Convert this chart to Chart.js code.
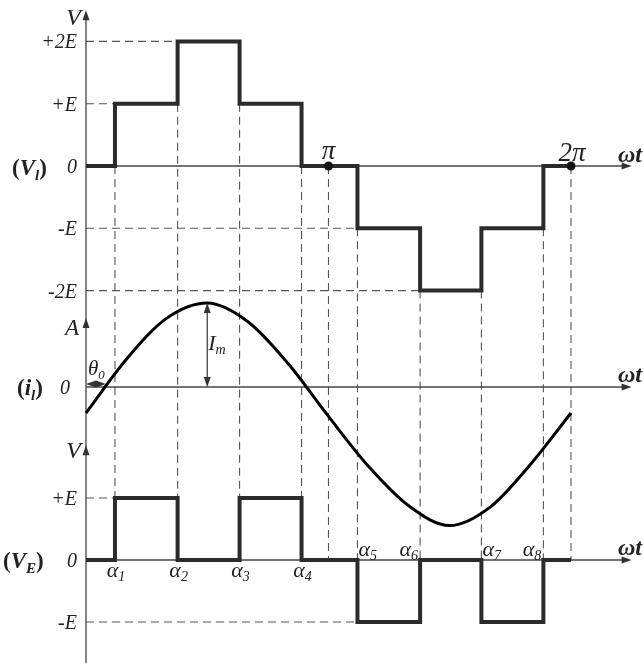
<!DOCTYPE html>
<html>
<head>
<meta charset="utf-8">
<script src="https://cdn.jsdelivr.net/npm/chart.js@4.4.0/dist/chart.umd.min.js"></script>
<style>
  html, body { margin: 0; padding: 0; background: #fff; }
  #wave { display: block; }
</style>
</head>
<body>
<canvas id="wave" width="644" height="663"></canvas>
<script>
// Switching angles alpha1..alpha8 (degrees of wt)
const alphaDeg = [21.5, 68, 114, 160, 201.5, 248, 293.5, 339.5];
const alphaSubs = ["1", "2", "3", "4", "5", "6", "7", "8"];

// Output levels in multiples of E, first entry = level from wt = 0
const vlLevels = [0, 1, 2, 1, 0, -1, -2, -1, 0];
const veLevels = [0, 1, 0, 1, 0, -1, 0, -1, 0];

// Tick labels of the two voltage axes
const vlTickVals = [2, 1, 0, -1, -2];
const vlTickText = ["+2E", "+E", "0", "-E", "-2E"];
const veTickVals = [1, 0, -1];
const veTickText = ["+E", "0", "-E"];

// Load current (units of Im), every 30 degrees
const currentDeg = [0, 30, 60, 90, 120, 150, 180, 210, 240, 270, 300, 330, 360];
const currentVal = [-0.31, 0.33, 0.82, 1.0, 0.78, 0.28, -0.35, -0.95, -1.42, -1.65, -1.43, -0.92, -0.31];
const theta0Deg = 14.8;

const PERIOD = 360;
const SERIF = '"Liberation Serif", "DejaVu Serif", serif';
const INK = "#222";

function stairPoints(levels) {
  const pts = [{ x: 0, y: levels[0] }];
  alphaDeg.forEach((a, i) => pts.push({ x: a, y: levels[i + 1] }));
  pts.push({ x: PERIOD, y: levels[levels.length - 1] });
  return pts;
}

// draw a list of text runs [text, font, dy] starting at x (align: left/center/right)
function runs(ctx, parts, x, y, align) {
  let total = 0;
  parts.forEach(p => { ctx.font = p[1]; total += ctx.measureText(p[0]).width; });
  let cx = align === "right" ? x - total : align === "center" ? x - total / 2 : x;
  ctx.textAlign = "left";
  ctx.textBaseline = "alphabetic";
  parts.forEach(p => {
    ctx.font = p[1];
    ctx.fillText(p[0], cx, y + (p[2] || 0));
    cx += ctx.measureText(p[0]).width;
  });
}

function arrowHead(ctx, x, y, dir) {
  const len = 10, half = 3.5;
  ctx.beginPath();
  if (dir === "up") { ctx.moveTo(x, y); ctx.lineTo(x - half, y + len); ctx.lineTo(x + half, y + len); }
  if (dir === "down") { ctx.moveTo(x, y); ctx.lineTo(x - half, y - len); ctx.lineTo(x + half, y - len); }
  if (dir === "right") { ctx.moveTo(x, y); ctx.lineTo(x - len, y - half); ctx.lineTo(x - len, y + half); }
  if (dir === "left") { ctx.moveTo(x, y); ctx.lineTo(x + len, y - half); ctx.lineTo(x + len, y + half); }
  ctx.closePath();
  ctx.fill();
}

function line(ctx, x1, y1, x2, y2) {
  ctx.beginPath();
  ctx.moveTo(x1, y1);
  ctx.lineTo(x2, y2);
  ctx.stroke();
}

const sketch = {
  id: "sketch",
  beforeDatasetsDraw(chart) {
    const { ctx, scales: { x, yV, yI, yE } } = chart;
    const ax = x.getPixelForValue(0);
    const xEnd = x.getPixelForValue(405);
    ctx.save();

    // dashed guides
    ctx.strokeStyle = "#555";
    ctx.lineWidth = 1.1;
    ctx.setLineDash([8, 5]);
    alphaDeg.forEach((a, i) => {
      const px = x.getPixelForValue(a);
      const top = yV.getPixelForValue(Math.min(vlLevels[i], vlLevels[i + 1]));
      const bot = yE.getPixelForValue(Math.max(veLevels[i], veLevels[i + 1]));
      line(ctx, px, top, px, bot);
    });
    [180, 360].forEach(d => {
      const px = x.getPixelForValue(d);
      line(ctx, px, yV.getPixelForValue(0), px, yE.getPixelForValue(0));
    });
    vlTickVals.forEach(v => {
      if (v === 0) return;
      const idx = vlLevels.indexOf(v);
      const py = yV.getPixelForValue(v);
      line(ctx, ax, py, x.getPixelForValue(alphaDeg[idx - 1]), py);
    });
    veTickVals.forEach(v => {
      if (v === 0) return;
      const idx = veLevels.indexOf(v);
      const py = yE.getPixelForValue(v);
      line(ctx, ax, py, x.getPixelForValue(alphaDeg[idx - 1]), py);
    });

    // axes
    ctx.setLineDash([]);
    ctx.strokeStyle = "#444";
    ctx.fillStyle = "#333";
    ctx.lineWidth = 1.3;
    line(ctx, ax, yV.getPixelForValue(2.45), ax, chart.height);
    [yV, yI, yE].forEach(s => {
      const py = s.getPixelForValue(0);
      line(ctx, ax, py, xEnd - 4, py);
      arrowHead(ctx, xEnd, py, "right");
    });
    arrowHead(ctx, ax, yV.getPixelForValue(2.5), "up");
    arrowHead(ctx, ax, yI.getPixelForValue(0.82), "up");
    arrowHead(ctx, ax, yE.getPixelForValue(1.85), "up");
    ctx.restore();
  },
  afterDatasetsDraw(chart) {
    const { ctx, scales: { x, yV, yI, yE } } = chart;
    const ax = x.getPixelForValue(0);
    ctx.save();
    ctx.fillStyle = INK;
    const tick = "italic 20px " + SERIF;

    // axis tick labels
    vlTickVals.forEach((v, i) => runs(ctx, [[vlTickText[i], tick]], ax - 9, yV.getPixelForValue(v) + 7, "right"));
    veTickVals.forEach((v, i) => runs(ctx, [[veTickText[i], tick]], ax - 9, yE.getPixelForValue(v) + 7, "right"));
    runs(ctx, [["0", tick]], ax - 16, yI.getPixelForValue(0) + 7, "right");

    // axis units
    runs(ctx, [["V", "italic 24px " + SERIF]], ax - 5, yV.getPixelForValue(2.265), "right");
    runs(ctx, [["A", "italic 23px " + SERIF]], ax - 7, yI.getPixelForValue(0.62), "right");
    runs(ctx, [["V", "italic 24px " + SERIF]], ax - 5, yE.getPixelForValue(1.65), "right");

    // panel names
    const b = "bold 23px " + SERIF, bi = "bold italic 23px " + SERIF, bs = "bold italic 15px " + SERIF;
    runs(ctx, [["(", b], ["V", bi], ["l", bs, 5], [")", b]], 12, yV.getPixelForValue(0) + 9, "left");
    runs(ctx, [["(", b], ["i", bi], ["l", bs, 5], [")", b]], 17, yI.getPixelForValue(0) + 8, "left");
    runs(ctx, [["(", b], ["V", bi], ["E", bs, 5], [")", b]], 3, yE.getPixelForValue(0) + 8, "left");

    // wt labels
    const wt = "bold italic 24px " + SERIF;
    runs(ctx, [["\u03c9t", wt]], 618, yV.getPixelForValue(0) - 4, "left");
    runs(ctx, [["\u03c9t", wt]], 618, yI.getPixelForValue(0) - 5, "left");
    runs(ctx, [["\u03c9t", wt]], 618, yE.getPixelForValue(0) - 5, "left");

    // pi markers
    ctx.fillStyle = "#111";
    [180, 360].forEach(d => {
      ctx.beginPath();
      ctx.arc(x.getPixelForValue(d), yV.getPixelForValue(0), 4.5, 0, Math.PI * 2);
      ctx.fill();
    });
    ctx.fillStyle = INK;
    const pf = "italic 27px " + SERIF;
    runs(ctx, [["\u03c0", pf]], x.getPixelForValue(180), yV.getPixelForValue(0) - 7, "center");
    runs(ctx, [["2\u03c0", pf]], x.getPixelForValue(360) + 1, yV.getPixelForValue(0) - 5, "center");

    // alpha labels
    const af = "italic 22px " + SERIF, as = "italic 14px " + SERIF;
    alphaDeg.forEach((a, i) => {
      const px = x.getPixelForValue(a);
      const parts = [["\u03b1", af], [alphaSubs[i], as, 4]];
      if (i < 4) runs(ctx, parts, px + 1, yE.getPixelForValue(0) + 17, "center");
      else if (i % 2 === 0) runs(ctx, parts, px + 1, yE.getPixelForValue(0) - 4, "left");
      else runs(ctx, parts, px - 2, yE.getPixelForValue(0) - 4, "right");
    });

    // theta0 and Im markers
    ctx.strokeStyle = "#333";
    ctx.fillStyle = "#333";
    ctx.lineWidth = 1.2;
    const z = yI.getPixelForValue(0);
    const th = x.getPixelForValue(theta0Deg);
    line(ctx, ax + 3, z - 3, th - 3, z - 3);
    arrowHead(ctx, ax, z - 3, "left");
    arrowHead(ctx, th, z - 3, "right");
    const pk = x.getPixelForValue(90);
    const top = yI.getPixelForValue(1);
    line(ctx, pk, top + 4, pk, z - 4);
    arrowHead(ctx, pk, top, "up");
    arrowHead(ctx, pk, z, "down");
    ctx.fillStyle = INK;
    runs(ctx, [["\u03b8", "italic 21px " + SERIF], ["0", "italic 13px " + SERIF, 4]], ax + 2, z - 12, "left");
    runs(ctx, [["I", "italic 22px " + SERIF], ["m", "italic 14px " + SERIF, 4]], pk + 1, yI.getPixelForValue(0.44), "left");
    ctx.restore();
  }
};

new Chart(document.getElementById("wave"), {
  type: "line",
  data: {
    datasets: [
      {
        label: "V_l",
        data: stairPoints(vlLevels),
        yAxisID: "yV",
        stepped: true,
        borderColor: "#2b2b2b",
        borderWidth: 4,
        pointRadius: 0,
        fill: false
      },
      {
        label: "i_l",
        data: currentDeg.map((d, i) => ({ x: d, y: currentVal[i] })),
        yAxisID: "yI",
        cubicInterpolationMode: "monotone",
        borderColor: "#000",
        borderWidth: 3,
        pointRadius: 0,
        fill: false
      },
      {
        label: "V_E",
        data: stairPoints(veLevels),
        yAxisID: "yE",
        stepped: true,
        borderColor: "#2b2b2b",
        borderWidth: 4,
        pointRadius: 0,
        fill: false
      }
    ]
  },
  options: {
    responsive: false,
    animation: false,
    layout: { padding: 0 },
    scales: {
      x: { type: "linear", display: false, min: -86 / 1.3472, max: (644 - 86) / 1.3472 },
      yV: { type: "linear", display: false, min: -(663 - 166) / 62.3, max: 166 / 62.3 },
      yI: { type: "linear", display: false, min: -(663 - 387) / 84, max: 387 / 84 },
      yE: { type: "linear", display: false, min: -(663 - 560) / 62, max: 560 / 62 }
    },
    plugins: {
      legend: { display: false },
      tooltip: { enabled: false }
    }
  },
  plugins: [sketch]
});
</script>
</body>
</html>
